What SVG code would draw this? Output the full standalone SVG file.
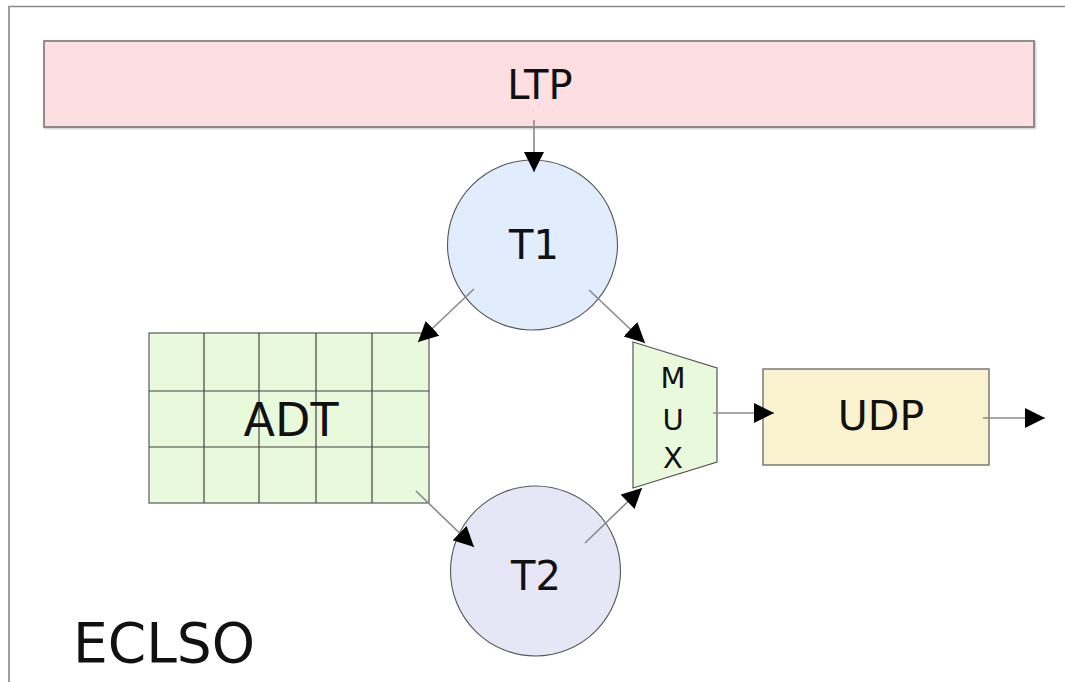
<svg xmlns="http://www.w3.org/2000/svg" width="1065" height="682" viewBox="0 0 1065 682">
  <style>
    .lbl { font-family: "DejaVu Sans", "Liberation Sans", sans-serif; fill: #111; text-anchor: middle; }
    .edge { stroke: #8a8a8a; stroke-width: 1.6; fill: none; marker-end: url(#head); }
    .grid { stroke: #444; stroke-width: 1.2; fill: none; }
  </style>
  <defs>
    <marker id="head" markerUnits="userSpaceOnUse" markerWidth="22" markerHeight="22" refX="20" refY="10" orient="auto" viewBox="0 0 22 22">
      <path d="M0,0 L20,10 L0,20 z" fill="#000"/>
    </marker>
    <filter id="shadow" x="-5%" y="-20%" width="110%" height="140%">
      <feDropShadow dx="1" dy="1" stdDeviation="1" flood-color="#000" flood-opacity="0.25"/>
    </filter>
  </defs>

  <rect width="1065" height="682" fill="#fff"/>
  <!-- outer frame -->
  <path d="M9,682 L9,6.5 L1065,6.5" fill="none" stroke="#888" stroke-width="1.6"/>

  <g id="ltp">
    <rect x="44" y="41" width="990" height="86" fill="#fddfe1" stroke="#777" stroke-width="1.6" filter="url(#shadow)"/>
    <text class="lbl" x="540" y="99" font-size="40">LTP</text>
  </g>

  <g id="t1">
    <circle cx="532.5" cy="245" r="85" fill="#e1ecfc" stroke="#555" stroke-width="1.1"/>
    <text class="lbl" x="534" y="259" font-size="40">T1</text>
  </g>

  <g id="adt">
    <rect x="149" y="333" width="280" height="170" fill="#e8fadb" stroke="#666" stroke-width="1.3"/>
    <path class="grid" d="M204,333 V503 M259,333 V503 M316,333 V503 M372,333 V503 M149,391 H429 M149,447 H429"/>
    <text class="lbl" x="291" y="436" font-size="46">ADT</text>
  </g>

  <g id="mux">
    <polygon points="633,342 717,368 717,462 633,488" fill="#e8fadb" stroke="#555" stroke-width="1.2"/>
    <text class="lbl" x="673" y="388" font-size="29">M</text>
    <text class="lbl" x="673" y="430" font-size="29">U</text>
    <text class="lbl" x="673" y="468" font-size="29">X</text>
  </g>

  <g id="udp">
    <rect x="763" y="369" width="226" height="96" fill="#faf1cf" stroke="#666" stroke-width="1.3"/>
    <text class="lbl" x="881" y="430" font-size="41">UDP</text>
  </g>

  <g id="t2">
    <circle cx="535.5" cy="571" r="85" fill="#e6e6f6" stroke="#555" stroke-width="1.1"/>
    <text class="lbl" x="536" y="590" font-size="40">T2</text>
  </g>

  <g id="eclso">
    <text class="lbl" x="164" y="662" font-size="55">ECLSO</text>
  </g>

  <g id="connectors">
    <line class="edge" x1="534" y1="120" x2="534" y2="172"/>
    <line class="edge" x1="474" y1="289" x2="418" y2="342"/>
    <line class="edge" x1="589" y1="290" x2="645" y2="343"/>
    <line class="edge" x1="416" y1="491" x2="474" y2="547"/>
    <line class="edge" x1="585" y1="543" x2="642" y2="488"/>
    <line class="edge" x1="713" y1="413" x2="774" y2="413"/>
    <line class="edge" x1="983" y1="418" x2="1045" y2="418"/>
  </g>
</svg>
